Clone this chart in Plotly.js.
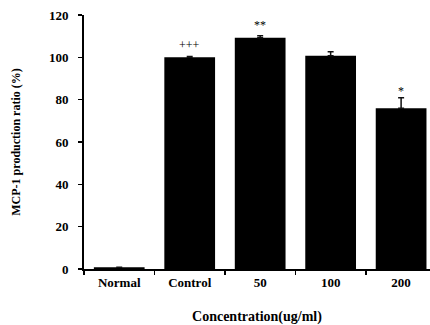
<!DOCTYPE html>
<html>
<head>
<meta charset="utf-8">
<script src="https://cdn.plot.ly/plotly-3.0.1.min.js"></script>
<style>html,body{margin:0;padding:0;background:#fff;}#chart{width:430px;height:325px;}</style>
</head>
<body>
<div id="chart"></div>
<script>
const categories = ["Normal", "Control", "50", "100", "200"];
const values = [0.8, 100, 109.3, 100.8, 75.9];
const errors = [0, 0.4, 0.9, 1.8, 5.0];
const marks = ["", "+++", "**", "", "*"];
const markY = [0, 106, 115.5, 0, 84];
const yTicks = [0, 20, 40, 60, 80, 100, 120];

const serif = "'Liberation Serif', 'Times New Roman', serif";

const trace = {
  type: "bar",
  x: categories,
  y: values,
  marker: {color: "#000", line: {width: 0}},
  width: 0.72,
  error_y: {type: "data", array: errors, symmetric: false, arrayminus: errors.map(() => 0),
            visible: true, color: "#111", thickness: 1.5, width: 3}
};

const annotations = [];
marks.forEach((m, i) => {
  if (m) annotations.push({xref: "x", yref: "y", x: i, y: markY[i], text: m, showarrow: false,
    font: {family: serif, size: 12, color: "#000"}});
});

const layout = {
  width: 430, height: 325,
  margin: {l: 84, r: 0, t: 15, b: 56},
  paper_bgcolor: "#fff", plot_bgcolor: "#fff",
  showlegend: false,
  xaxis: {
    type: "category", range: [-0.5, 4.41],
    showline: true, linecolor: "#000", linewidth: 2,
    ticks: "outside", tickson: "boundaries", ticklen: 4, tickwidth: 1.5, tickcolor: "#000",
    tickfont: {family: serif, size: 13, color: "#000", weight: "bold"},
    showgrid: false, zeroline: false,
    title: {text: "<b>Concentration(ug/ml)</b>", font: {family: serif, size: 14, color: "#000"}, standoff: 23}
  },
  yaxis: {
    range: [0, 120], tickvals: yTicks,
    showline: true, linecolor: "#000", linewidth: 2,
    ticks: "outside", ticklen: 4, tickwidth: 1.5, tickcolor: "#000",
    ticklabelstandoff: 7,
    tickfont: {family: serif, size: 13, color: "#000", weight: "bold"},
    showgrid: false, zeroline: false,
    title: {text: "<b>MCP-1 production ratio (%)</b>", font: {family: serif, size: 12, color: "#000"}, standoff: 26}
  },
  annotations: annotations
};

Plotly.newPlot("chart", [trace], layout, {displayModeBar: false, staticPlot: true});
</script>
</body>
</html>
